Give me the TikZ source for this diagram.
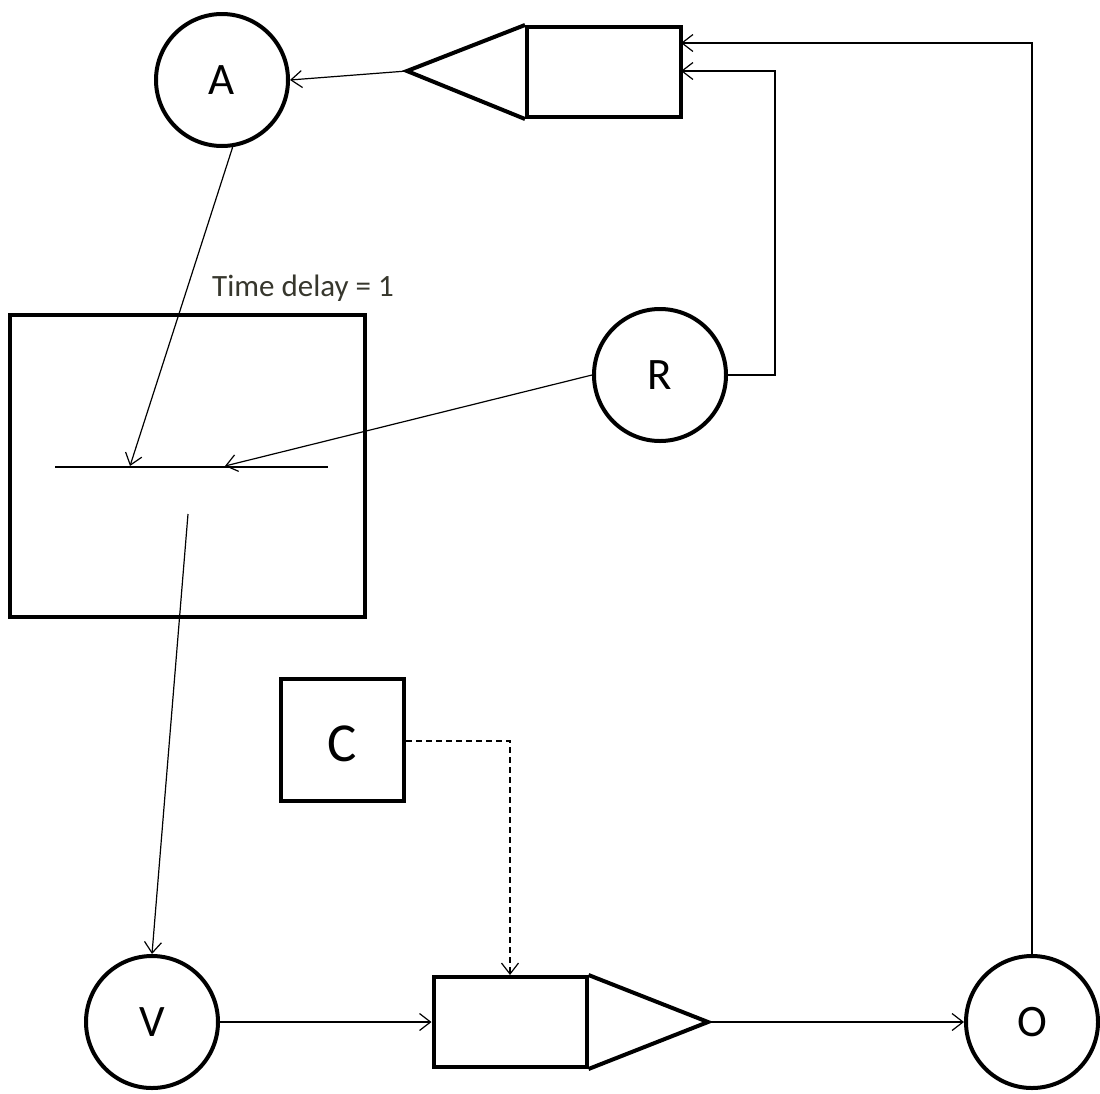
\documentclass[tikz,border=0pt]{standalone}
\usepackage{fontspec}
\setmainfont{Carlito}
\usetikzlibrary{arrows.meta}
\definecolor{lbl}{RGB}{55,55,45}
\begin{document}
\begin{tikzpicture}[x=1pt,y=-1pt,
  thick border/.style={line width=4pt},
  conn/.style={line width=1.2pt,-{Straight Barb[length=11pt,width=17pt,line width=1.2pt]}},
  circ/.style={circle,draw,thick border,minimum size=132pt,inner sep=0pt,font=\fontsize{45}{45}\selectfont},
  blk/.style={draw,thick border,inner sep=0pt},
]
\useasboundingbox (0,0) rectangle (1100,1093);
% circles
\node[circ] (A) at (222,80) {A};
\node[circ] (R) at (660,375) {R};
\node[circ] (V) at (152,1022) {V};
\node[circ] (O) at (1032,1022) {O};
% top amplifier
\node[blk,minimum width=154pt,minimum height=90pt] (amp1) at (604,72) {};
\coordinate (tip1) at (407,71);
\draw[thick border,line join=miter] (amp1.north west) -- (tip1) -- (amp1.south west);
% bottom amplifier
\node[blk,minimum width=153pt,minimum height=90pt] (amp2) at (510,1022) {};
\coordinate (tip2) at (708,1022);
\draw[thick border,line join=miter] (amp2.north east) -- (tip2) -- (amp2.south east);
% delay box
\node[blk,minimum width=355pt,minimum height=302pt] (delay) at (187.5,466) {};
\node[font=\fontsize{31}{31}\selectfont,text=lbl,anchor=base west,inner sep=0pt] (td) at (212,296) {Time delay = 1};
\coordinate (l1) at (55,467);
\coordinate (l2) at (328,467);
\draw[line width=1.2pt] (l1) -- (l2);
\coordinate (inA) at (130,466);
\coordinate (inR) at (225,466);
\coordinate (out) at (188,514);
% C box
\node[blk,minimum width=123pt,minimum height=122pt] (C) at (342.5,740) {};
\node[font=\fontsize{55}{55}\selectfont,inner sep=0pt] (Clbl) at (342.5,744) {C};
% connectors
\draw[conn] (tip1) -- (A.east);
\draw[conn] (A.-81) -- (inA);
\draw[conn] (R.west) -- (inR);
\draw[conn] (out) -- (V.north);
\draw[conn] (V.east) -- (amp2.west);
\draw[conn] (tip2) -- (O.west);
\coordinate (topin) at (681,43);
\coordinate (midin) at (681,71);
\draw[conn] (O.north) |- (topin);
\coordinate (rk) at (775,375);
\draw[conn] (R.east) -- (rk) |- (midin);
\coordinate (cd) at (510,741);
\draw[conn,dash pattern=on 6pt off 4pt] (C.east |- cd) -- (cd) -- (amp2.north west -| cd);
\end{tikzpicture}
\end{document}
